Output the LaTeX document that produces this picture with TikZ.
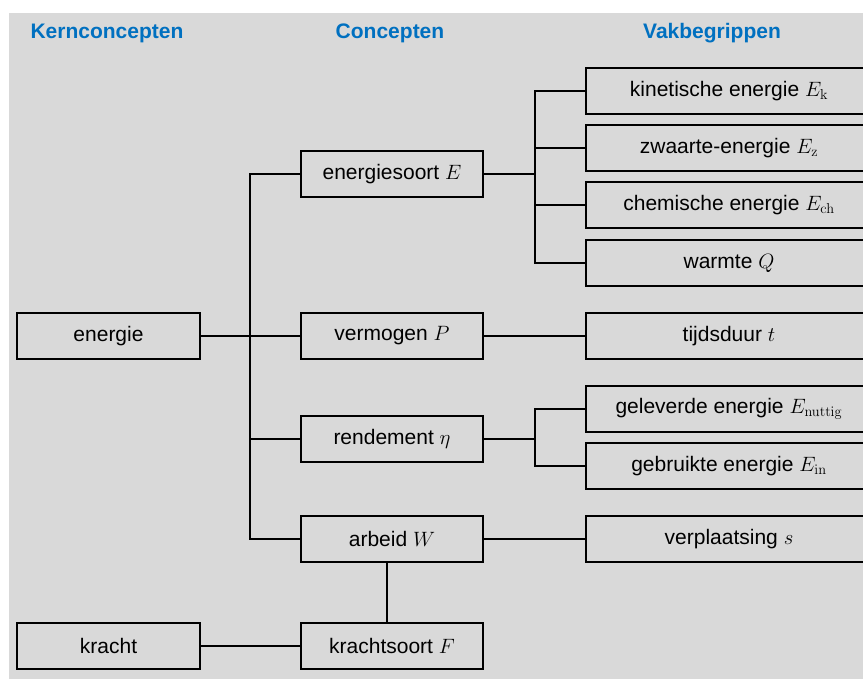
\documentclass[tikz,border=0pt]{standalone}
\usepackage[no-math]{fontspec}
\setmainfont{Liberation Sans}
\usetikzlibrary{calc}
\definecolor{bg}{HTML}{D9D9D9}
\definecolor{hdr}{HTML}{0070C0}
\begin{document}
\begin{tikzpicture}[x=1pt,y=-1pt,
  box/.style={draw=black,line width=1.6pt,minimum height=46pt,inner sep=0pt,font=\fontsize{21}{25}\selectfont},
  lbox/.style={box,minimum width=183pt},
  mbox/.style={box,minimum width=182pt},
  rbox/.style={box,minimum width=286pt},
  hd/.style={text=hdr,font=\fontsize{21}{25}\selectfont\bfseries},
  ln/.style={line width=1.6pt}]
\useasboundingbox (0,0) rectangle (863,679);
\fill[bg] (9,13) rectangle (863,679);
% headers
\node[hd] (h1) at (107,33) {Kernconcepten};
\node[hd] (h2) at (390,33) {Concepten};
\node[hd] (h3) at (712,33) {Vakbegrippen};
% left
\node[lbox] (en) at (108.5,336) {energie};
\node[lbox] (kr) at (108.5,646) {kracht};
% middle
\node[mbox] (es) at (392,174) {energiesoort $E$};
\node[mbox] (ve) at (392,336) {vermogen $P$};
\node[mbox] (re) at (392,439) {rendement $\eta$};
\node[mbox] (ar) at (392,539) {arbeid $W$};
\node[mbox] (ks) at (392,646) {krachtsoort $F$};
% right
\node[rbox] (ke) at (729,91) {kinetische energie $E_{\mathrm{k}}$};
\node[rbox] (zw) at (729,148) {zwaarte-energie $E_{\mathrm{z}}$};
\node[rbox] (ch) at (729,205) {chemische energie $E_{\mathrm{ch}}$};
\node[rbox] (wa) at (729,263) {warmte $Q$};
\node[rbox] (tj) at (729,336) {tijdsduur $t$};
\node[rbox] (gl) at (729,409) {geleverde energie $E_{\mathrm{nuttig}}$};
\node[rbox] (gb) at (729,466) {gebruikte energie $E_{\mathrm{in}}$};
\node[rbox] (vp) at (729,539) {verplaatsing $s$};
% main trunk
\coordinate (t) at (250,336);
\draw[ln] (en.east) -- (ve.west);
\draw[ln] (es.west) -| (t);
\draw[ln] (ar.west) -| (t);
\draw[ln] (re.west) -- (re.west -| t);
% energiesoort branches
\coordinate (j1) at (535,174);
\draw[ln] (es.east) -- (j1);
\draw[ln] (ke.west) -| (j1);
\draw[ln] (wa.west) -| (j1);
\draw[ln] (zw.west) -- (zw.west -| j1);
\draw[ln] (ch.west) -- (ch.west -| j1);
% vermogen
\draw[ln] (ve.east) -- (tj.west);
% rendement branches
\coordinate (j2) at (535,439);
\draw[ln] (re.east) -- (j2);
\draw[ln] (gl.west) -| (j2);
\draw[ln] (gb.west) -| (j2);
% arbeid
\draw[ln] (ar.east) -- (vp.west);
\coordinate (a1) at ($(ar.south)+(-5,0)$);
\draw[ln] (a1) -- (a1 |- ks.north);
% kracht
\draw[ln] (kr.east) -- (ks.west);
\end{tikzpicture}
\end{document}
